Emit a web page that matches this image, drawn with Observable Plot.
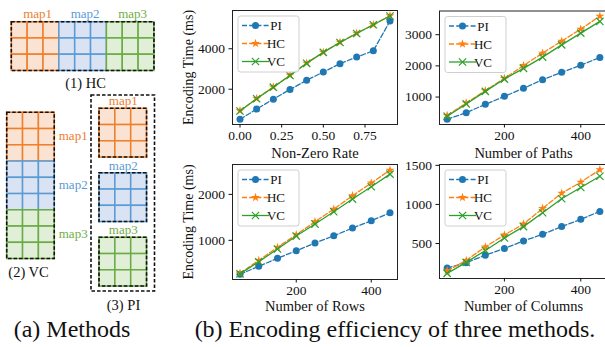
<!DOCTYPE html>
<html><head><meta charset="utf-8">
<script src="https://cdn.jsdelivr.net/npm/d3@7"></script>
<script src="https://cdn.jsdelivr.net/npm/@observablehq/plot@0.6"></script>
<style>
html,body{margin:0;padding:0;background:#fff;overflow:hidden;}
#root{position:relative;width:605px;height:347px;font-family:"Liberation Serif",serif;color:#111;overflow:hidden;}
.cap{position:absolute;font-size:24px;white-space:nowrap;transform:translate(-50%,-50%);line-height:1;}
</style></head><body><div id="root"></div>
<script>
// ---------- data ----------
const seriesNames = ["PI", "HC", "VC"];
const maps = ["map1", "map2", "map3"];
const methodLabels = ["(1) HC", "(2) VC", "(3) PI"];

const nzRate = [0, 0.1, 0.2, 0.3, 0.4, 0.5, 0.6, 0.7, 0.8, 0.9];
const nzPI = [511, 1017, 1509, 1985, 2442, 2850, 3263, 3590, 3900, 5376];
const nzHC = [934, 1543, 2113, 2688, 3292, 3833, 4324, 4767, 5194, 5636];
const nzVC = [920, 1530, 2100, 2675, 3280, 3820, 4310, 4755, 5185, 5622];

const sizes = [50, 100, 150, 200, 250, 300, 350, 400, 450];
const pathPI = [285, 500, 766, 1022, 1279, 1558, 1792, 2019, 2270];
const pathHC = [413, 808, 1205, 1599, 2010, 2410, 2795, 3180, 3595];
const pathVC = [382, 780, 1183, 1577, 1920, 2282, 2673, 3051, 3426];

const rowPI = [261, 435, 609, 774, 941, 1100, 1267, 1426, 1600];
const rowHC = [283, 565, 848, 1122, 1404, 1680, 1970, 2246, 2528];
const rowVC = [270, 535, 811, 1093, 1354, 1622, 1898, 2165, 2441];

const colPI = [186, 253, 351, 436, 533, 618, 716, 809, 911];
const colHC = [151, 284, 457, 609, 749, 949, 1144, 1284, 1445];
const colVC = [118, 258, 411, 571, 716, 894, 1073, 1216, 1360];

const nzTicks = [0, 0.25, 0.5, 0.75];
const sizeTicks = [200, 400];
const nzYTicks = [2000, 4000];
const pathYTicks = [1000, 2000, 3000];
const rowYTicks = [1000, 2000];
const colYTicks = [500, 1000, 1500];

const xLabels = ["Non-Zero Rate", "Number of Paths", "Number of Rows", "Number of Columns"];
const yLabel = "Encoding Time (ms)";
const captions = ["(a) Methods", "(b) Encoding efficiency of three methods."];

// ---------- styles ----------
const seriesColors = ["#1f77b4", "#ff7f0e", "#2ca02c"];
const seriesDash = ["5,2.2", "5,2.2", null];
const seriesSymbols = ["circle", "star", "times"];
const seriesR = [3.5, 2.8, 3.4];
const mapStroke = ["#f07f2a", "#5b9bd5", "#6aab45"];
const mapFill = ["#fbe3d3", "#d9e3f3", "#e1efd8"];
const mapText = ["#ed7d31", "#5b9bd5", "#70ad47"];
const FONT = "Liberation Serif";
const TICK = 13.5;

const root = document.getElementById("root");
function place(node, left, top) {
  node.style.position = "absolute";
  node.style.left = left + "px";
  node.style.top = top + "px";
  root.appendChild(node);
}

// ---------- diagram (a) ----------
function drawDiagram() {
  const cw = 15.85, ch = 16.25;
  const blocks = [];
  maps.forEach((m, i) => {
    blocks.push({method: "HC", map: i, x: 11.3 + i * 3 * cw, y: 21.7});
    blocks.push({method: "VC", map: i, x: 6.7, y: 112.3 + i * 3 * ch});
    blocks.push({method: "PI", map: i, x: 99, y: 108.3 + i * 64.5});
  });
  const cells = [];
  blocks.forEach(b => {
    for (let r = 0; r < 3; r++) for (let c = 0; c < 3; c++)
      cells.push({x1: b.x + c * cw, x2: b.x + (c + 1) * cw, y1: b.y + r * ch, y2: b.y + (r + 1) * ch, map: b.map});
  });
  const dashed = [
    {x1: 11.3, x2: 11.3 + 9 * cw, y1: 21.7, y2: 21.7 + 3 * ch},
    {x1: 6.7, x2: 6.7 + 3 * cw, y1: 112.3, y2: 112.3 + 9 * ch},
    {x1: 91, x2: 154.5, y1: 95, y2: 291}
  ];
  blocks.filter(b => b.method === "PI").forEach(b =>
    dashed.push({x1: b.x, x2: b.x + 3 * cw, y1: b.y, y2: b.y + 3 * ch}));
  const labels = [];
  blocks.forEach(b => {
    if (b.method === "HC") labels.push({x: b.x + 1.5 * cw + 2, y: b.y - 8, text: maps[b.map], map: b.map});
    if (b.method === "VC") labels.push({x: 72.7, y: b.y + 1.5 * ch - 1, text: maps[b.map], map: b.map});
    if (b.method === "PI") labels.push({x: b.x + 1.5 * cw, y: b.y - 7.5, text: maps[b.map], map: b.map});
  });
  const mlab = [
    {x: 85, y: 83, text: methodLabels[0]},
    {x: 28, y: 271.5, text: methodLabels[1]},
    {x: 123, y: 305, text: methodLabels[2]}
  ];
  const svg = Plot.plot({
    width: 170, height: 315,
    marginLeft: 0, marginRight: 0, marginTop: 0, marginBottom: 0,
    x: {domain: [0, 170], range: [0, 170], axis: null},
    y: {domain: [0, 315], range: [0, 315], axis: null},
    style: {fontFamily: FONT, background: "transparent", overflow: "visible"},
    marks: [
      Plot.rect(cells, {x1: "x1", x2: "x2", y1: "y1", y2: "y2", fill: d => mapFill[d.map], stroke: d => mapStroke[d.map], strokeWidth: 1.5}),
      Plot.rect(dashed, {x1: "x1", x2: "x2", y1: "y1", y2: "y2", fill: "none", stroke: "#111", strokeWidth: 1.6, strokeDasharray: "3.5,2"}),
      Plot.text(labels, {x: "x", y: "y", text: "text", fill: d => mapText[d.map], fontSize: 13}),
      Plot.text(mlab, {x: "x", y: "y", text: "text", fill: "#111", fontSize: 14.5})
    ],
    color: {type: "identity"}
  });
  place(svg, 0, 0);
}

// ---------- chart panels (b) ----------
function addLegend(svg, ml, mt) {
  const g = d3.select(svg).append("g").attr("transform", `translate(${ml + 6},${mt + 6})`);
  g.append("rect").attr("width", 61).attr("height", 56).attr("rx", 2.5)
    .attr("fill", "white").attr("fill-opacity", 0.85).attr("stroke", "#cfcfcf").attr("stroke-width", 1);
  const types = {circle: d3.symbolCircle, star: d3.symbolStar, times: d3.symbolTimes};
  seriesNames.forEach((name, i) => {
    const cy = 9.5 + i * 18;
    g.append("line").attr("x1", 4).attr("x2", 31).attr("y1", cy).attr("y2", cy)
      .attr("stroke", seriesColors[i]).attr("stroke-width", 1.3)
      .attr("stroke-dasharray", seriesDash[i] || null);
    const p = g.append("path").attr("d", d3.symbol(types[seriesSymbols[i]], Math.PI * seriesR[i] ** 2)())
      .attr("transform", `translate(17.5,${cy})`);
    if (seriesSymbols[i] === "times") p.attr("fill", "none").attr("stroke", seriesColors[i]).attr("stroke-width", 1.2);
    else p.attr("fill", seriesColors[i]);
    g.append("text").attr("x", 38).attr("y", cy).attr("dy", "0.35em").attr("font-size", 13)
      .attr("fill", "#111").text(name);
  });
}

function panel(o) {
  const series = [o.pi, o.hc, o.vc];
  const marks = [];
  series.forEach((arr, si) => {
    const d = arr.map((v, i) => ({x: o.xs[i], y: v}));
    marks.push(Plot.line(d, {x: "x", y: "y", stroke: seriesColors[si], strokeWidth: 1.3,
      strokeDasharray: seriesDash[si] || undefined}));
    if (seriesSymbols[si] === "times")
      marks.push(Plot.dot(d, {x: "x", y: "y", symbol: "times", r: seriesR[si], stroke: seriesColors[si], strokeWidth: 1.2}));
    else
      marks.push(Plot.dot(d, {x: "x", y: "y", symbol: seriesSymbols[si], r: seriesR[si], fill: seriesColors[si]}));
  });
  marks.push(Plot.frame({stroke: "#222", strokeWidth: 1}));
  marks.push(Plot.axisX({ticks: o.xTicks, tickFormat: o.xFormat, tickSize: 3.5, tickPadding: 2, label: null, fontSize: TICK}));
  marks.push(Plot.axisY({ticks: o.yTicks, tickFormat: d3.format("d"), tickSize: 3.5, tickPadding: 4, label: null, fontSize: TICK}));
  marks.push(Plot.text([o.xLabel], {frameAnchor: "bottom", dy: o.xlDy, text: d => d, fontSize: 14.5, fill: "#111",
    textAnchor: "middle", lineAnchor: "middle"}));
  if (o.yLabel) marks.push(Plot.text([o.yLabel], {frameAnchor: "left", dx: -44, rotate: -90, text: d => d, fontSize: 14,
    fill: "#111", textAnchor: "middle", lineAnchor: "middle"}));
  const svg = Plot.plot({
    width: o.width, height: o.height,
    marginLeft: o.ml, marginRight: o.mr, marginTop: o.mt, marginBottom: o.mb,
    x: {domain: o.xDomain},
    y: {domain: o.yDomain},
    style: {fontFamily: FONT, fontSize: TICK + "px", color: "#111", background: "transparent", overflow: "visible"},
    marks
  });
  addLegend(svg, o.ml, o.mt);
  place(svg, o.left, o.top);
}

drawDiagram();

panel({xs: nzRate, pi: nzPI, hc: nzHC, vc: nzVC, xDomain: [-0.045, 0.945], yDomain: [255, 5892],
  xTicks: nzTicks, xFormat: d3.format(".2f"), yTicks: nzYTicks, xLabel: xLabels[0], yLabel: yLabel, xlDy: 29,
  left: 170, top: 0, width: 235, height: 162, ml: 62, mr: 8, mt: 10, mb: 38});
panel({xs: sizes, pi: pathPI, hc: pathHC, vc: pathVC, xDomain: [30, 470], yDomain: [120, 3760],
  xTicks: sizeTicks, xFormat: d3.format("d"), yTicks: pathYTicks, xLabel: xLabels[1], yLabel: null, xlDy: 29,
  left: 385, top: 0, width: 222, height: 162, ml: 54, mr: 0, mt: 10.5, mb: 38});
panel({xs: sizes, pi: rowPI, hc: rowHC, vc: rowVC, xDomain: [30, 470], yDomain: [148, 2650],
  xTicks: sizeTicks, xFormat: d3.format("d"), yTicks: rowYTicks, xLabel: xLabels[2], yLabel: yLabel, xlDy: 26.5,
  left: 170, top: 150, width: 235, height: 165, ml: 62, mr: 8, mt: 14, mb: 36});
panel({xs: sizes, pi: colPI, hc: colHC, vc: colVC, xDomain: [30, 470], yDomain: [52, 1511],
  xTicks: sizeTicks, xFormat: d3.format("d"), yTicks: colYTicks, xLabel: xLabels[3], yLabel: null, xlDy: 27.5,
  left: 385, top: 150, width: 222, height: 165, ml: 54, mr: 0, mt: 14, mb: 37});

// captions
[[captions[0], 72, 329], [captions[1], 395, 329]].forEach(([t, x, y]) => {
  const d = document.createElement("div");
  d.className = "cap";
  d.textContent = t;
  d.style.left = x + "px";
  d.style.top = y + "px";
  root.appendChild(d);
});
</script></body></html>
